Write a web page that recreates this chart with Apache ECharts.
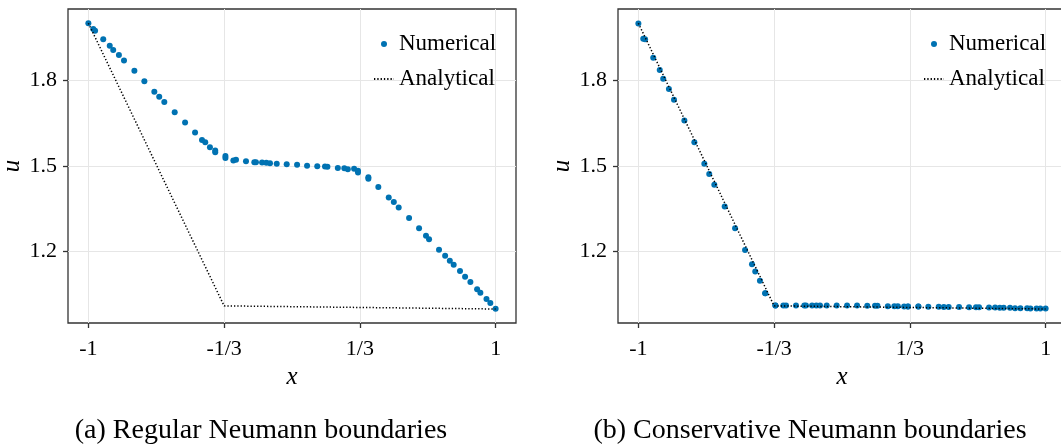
<!DOCTYPE html>
<html><head><meta charset="utf-8">
<script src="https://cdn.jsdelivr.net/npm/echarts@6/dist/echarts.min.js"></script>
<style>html,body{margin:0;padding:0;background:#fff}#c{width:1061px;height:448px}</style>
</head><body><div id="c"></div>
<script>
const xNodes = [-1.000,-0.976,-0.967,-0.927,-0.895,-0.878,-0.850,-0.825,-0.774,-0.725,-0.676,-0.652,-0.627,-0.576,-0.525,-0.476,-0.442,-0.426,-0.403,-0.377,-0.377,-0.327,-0.327,-0.288,-0.275,-0.226,-0.185,-0.177,-0.147,-0.126,-0.108,-0.075,-0.026,0.025,0.074,0.124,0.162,0.174,0.225,0.257,0.274,0.305,0.324,0.324,0.375,0.375,0.424,0.475,0.500,0.524,0.575,0.624,0.658,0.673,0.722,0.752,0.775,0.794,0.825,0.850,0.876,0.909,0.925,0.955,0.974,1.000];
const uRegular = [2.000,1.980,1.974,1.944,1.921,1.906,1.889,1.870,1.834,1.797,1.760,1.743,1.724,1.688,1.652,1.617,1.591,1.583,1.566,1.554,1.548,1.535,1.528,1.519,1.522,1.517,1.513,1.513,1.512,1.511,1.510,1.508,1.506,1.504,1.501,1.499,1.498,1.497,1.493,1.492,1.489,1.490,1.483,1.477,1.461,1.455,1.426,1.390,1.374,1.355,1.318,1.282,1.256,1.243,1.207,1.186,1.168,1.154,1.132,1.112,1.094,1.068,1.056,1.034,1.020,1.000];
const uConservative = [1.999,1.946,1.944,1.879,1.836,1.806,1.770,1.732,1.659,1.583,1.508,1.472,1.434,1.358,1.282,1.206,1.156,1.130,1.098,1.054,1.054,1.011,1.011,1.011,1.011,1.011,1.011,1.011,1.011,1.011,1.011,1.011,1.011,1.011,1.011,1.010,1.010,1.010,1.009,1.009,1.009,1.008,1.008,1.008,1.008,1.008,1.007,1.007,1.006,1.006,1.006,1.005,1.005,1.005,1.004,1.004,1.003,1.003,1.003,1.002,1.002,1.002,1.001,1.001,1.001,1.001];
const xExact = [-1, -1/3, 1];
const uExact = [2.0, 1.01, 0.999];
const xTickValues = [-1, -1/3, 1/3, 1];
const xTickLabels = ['-1', '-1/3', '1/3', '1'];
const yTickValues = [1.2, 1.5, 1.8];
const yTickLabels = ['1.2', '1.5', '1.8'];
const captions = ['(a) Regular Neumann boundaries', '(b) Conservative Neumann boundaries'];
const seriesNames = ['Numerical', 'Analytical'];

const FONT = 'Liberation Serif';
const BLUE = '#0072b2';
const pairs = (xs, ys) => xs.map((x, i) => [x, ys[i]]);
function fmt(values, labels) {
  return v => { let k = 0, best = Infinity; values.forEach((t, i) => { const d = Math.abs(t - v); if (d < best) { best = d; k = i; } }); return labels[k]; };
}
const gridLefts = [68, 618];
const panels = [uRegular, uConservative];
const chart = echarts.init(document.getElementById('c'), null, {renderer: 'canvas'});
const option = {
  animation: false,
  backgroundColor: '#fff',
  grid: gridLefts.map(l => ({left: l, top: 9, width: 448, height: 314, show: true, borderColor: '#333', borderWidth: 1.3, backgroundColor: 'transparent', containLabel: false, outerBoundsMode: 'none'})),
  xAxis: [0, 1].map(i => ({
    type: 'value', gridIndex: i, min: -1.1, max: 1.1,
    name: 'x', nameLocation: 'middle', nameGap: 40,
    nameTextStyle: {fontFamily: FONT, fontStyle: 'italic', fontSize: 25, color: '#000'},
    axisLine: {show: false, onZero: false},
    axisTick: {show: true, inside: false, length: 5, customValues: xTickValues, lineStyle: {color: '#333', width: 1.3}},
    axisLabel: {customValues: xTickValues, formatter: fmt(xTickValues, xTickLabels), fontFamily: FONT, fontSize: 22, color: '#000', margin: 15},
    splitLine: {show: true, lineStyle: {color: '#e6e6e6', width: 1}}
  })),
  yAxis: [0, 1].map(i => ({
    type: 'value', gridIndex: i, min: 0.95, max: 2.05,
    name: 'u', nameLocation: 'middle', nameGap: 43,
    nameTextStyle: {fontFamily: FONT, fontStyle: 'italic', fontSize: 25, color: '#000'},
    axisLine: {show: false, onZero: false},
    axisTick: {show: true, inside: false, length: 5, customValues: yTickValues, lineStyle: {color: '#333', width: 1.3}},
    axisLabel: {customValues: yTickValues, formatter: fmt(yTickValues, yTickLabels), fontFamily: FONT, fontSize: 22, color: '#000', margin: 11},
    splitLine: {show: true, lineStyle: {color: '#e6e6e6', width: 1}}
  })),
  legend: [373, 923].map(l => ({
    left: l, top: 32, orient: 'vertical', padding: 0, itemGap: 11,
    itemWidth: 20, itemHeight: 6,
    data: [{name: seriesNames[0], icon: 'circle'}, {name: seriesNames[1], itemStyle: {opacity: 0}}],
    textStyle: {fontFamily: FONT, fontSize: 23, color: '#000', lineHeight: 24},
    selectedMode: false
  })),
  series: [].concat(...panels.map((u, i) => [
    {name: seriesNames[0], type: 'scatter', xAxisIndex: i, yAxisIndex: i, data: pairs(xNodes, u), symbolSize: 6, itemStyle: {color: BLUE, opacity: 1}},
    {name: seriesNames[1], type: 'line', xAxisIndex: i, yAxisIndex: i, data: pairs(xExact, uExact), symbol: 'none', lineStyle: {color: '#000', width: 1.5, type: [1.3, 2]}, itemStyle: {color: '#000'}}
  ])),
  graphic: captions.map((t, i) => ({
    type: 'text', x: [261, 810][i], y: 431,
    style: {text: t, fontFamily: FONT, fontSize: 28, fill: '#000', align: 'center', verticalAlign: 'middle'}
  }))
};
chart.setOption(option);
</script></body></html>
